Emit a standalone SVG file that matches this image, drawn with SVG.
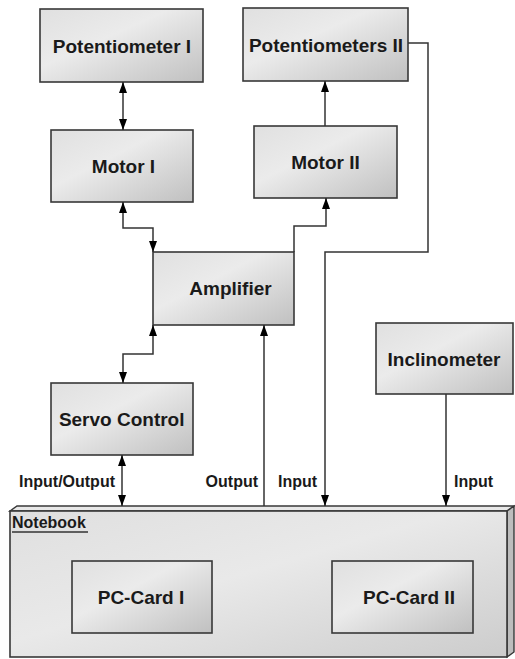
<svg xmlns="http://www.w3.org/2000/svg" width="515" height="659" viewBox="0 0 515 659">
  <defs>
    <linearGradient id="boxFill" x1="0" y1="0" x2="1" y2="1">
      <stop offset="0" stop-color="#e0e0e0"/>
      <stop offset="0.4" stop-color="#ebebeb"/>
      <stop offset="1" stop-color="#c0c0c0"/>
    </linearGradient>
    <linearGradient id="nbFront" x1="0" y1="0" x2="1" y2="1">
      <stop offset="0" stop-color="#dfdfdf"/>
      <stop offset="0.45" stop-color="#e9e9e9"/>
      <stop offset="1" stop-color="#cccccc"/>
    </linearGradient>
    <marker id="arrow" viewBox="0 0 11 8" refX="11" refY="4" markerWidth="11" markerHeight="8" markerUnits="userSpaceOnUse" orient="auto-start-reverse">
      <path d="M0,0 L11,4 L0,8 z" fill="#000"/>
    </marker>
  </defs>
  <style>
    .box { fill: url(#boxFill); stroke: #383838; stroke-width: 1.6; }
    .label { font-family: "Liberation Sans", Arial, sans-serif; font-weight: bold; font-size: 19px; fill: #1a1a1a; text-anchor: middle; }
    .small { font-family: "Liberation Sans", Arial, sans-serif; font-weight: bold; font-size: 16px; fill: #1a1a1a; }
    .wire { fill: none; stroke: #333; stroke-width: 1.5; }
  </style>
  <rect width="515" height="659" fill="#fff"/>

  <!-- Notebook container (3D box) -->
  <g id="notebook">
    <polygon points="10,511 17,506 514,506 507,511" fill="#e8e8e8" stroke="#383838" stroke-width="1.4"/>
    <polygon points="507,511 514,506 514,652 507,657" fill="#bdbdbd" stroke="#383838" stroke-width="1.4"/>
    <rect x="10" y="511" width="497" height="146" fill="url(#nbFront)" stroke="#383838" stroke-width="1.6"/>
    <text class="small" x="12" y="528">Notebook</text>
    <line x1="12" y1="532" x2="88" y2="532" stroke="#333" stroke-width="1.5"/>
  </g>

  <g id="pc-card-1">
    <rect class="box" x="72" y="561" width="140" height="72"/>
    <text class="label" x="141" y="604">PC-Card I</text>
  </g>
  <g id="pc-card-2">
    <rect class="box" x="332" y="561" width="141" height="72"/>
    <text class="label" x="409" y="604">PC-Card II</text>
  </g>

  <g id="potentiometer-1">
    <rect class="box" x="40" y="9" width="163" height="73"/>
    <text class="label" x="122" y="52.5">Potentiometer I</text>
  </g>
  <g id="potentiometers-2">
    <rect class="box" x="243" y="8" width="165" height="73"/>
    <text class="label" x="326" y="51.5">Potentiometers II</text>
  </g>
  <g id="motor-1">
    <rect class="box" x="51" y="130" width="142" height="72"/>
    <text class="label" x="123.5" y="173">Motor I</text>
  </g>
  <g id="motor-2">
    <rect class="box" x="254" y="126" width="143" height="72"/>
    <text class="label" x="325.5" y="169">Motor II</text>
  </g>
  <g id="amplifier">
    <rect class="box" x="153" y="252" width="141" height="73"/>
    <text class="label" x="230.5" y="295">Amplifier</text>
  </g>
  <g id="servo-control">
    <rect class="box" x="51" y="383" width="142" height="72"/>
    <text class="label" x="121.7" y="426">Servo Control</text>
  </g>
  <g id="inclinometer">
    <rect class="box" x="376" y="323" width="137" height="71"/>
    <text class="label" x="444" y="365.5">Inclinometer</text>
  </g>

  <!-- Connectors -->
  <g id="connectors">
    <path class="wire" d="M123,82 V130" marker-start="url(#arrow)" marker-end="url(#arrow)"/>
    <path class="wire" d="M325,126 V81" marker-end="url(#arrow)"/>
    <path class="wire" d="M123,202 V228 H153 V252" marker-start="url(#arrow)" marker-end="url(#arrow)"/>
    <path class="wire" d="M294,252 V226 H326 V198" marker-end="url(#arrow)"/>
    <path class="wire" d="M153,325 V354 H123 V383" marker-start="url(#arrow)" marker-end="url(#arrow)"/>
    <path class="wire" d="M264,506 V325" marker-end="url(#arrow)"/>
    <path class="wire" d="M122,455 V506" marker-start="url(#arrow)" marker-end="url(#arrow)"/>
    <path class="wire" d="M408,43 H428 V252 H325 V506" marker-end="url(#arrow)"/>
    <path class="wire" d="M446,394 V506" marker-end="url(#arrow)"/>
  </g>

  <!-- Connector labels -->
  <g id="connector-labels">
    <text class="small" x="115" y="487" text-anchor="end">Input/Output</text>
    <text class="small" x="258" y="487" text-anchor="end">Output</text>
    <text class="small" x="278" y="487">Input</text>
    <text class="small" x="454" y="487">Input</text>
  </g>
</svg>
